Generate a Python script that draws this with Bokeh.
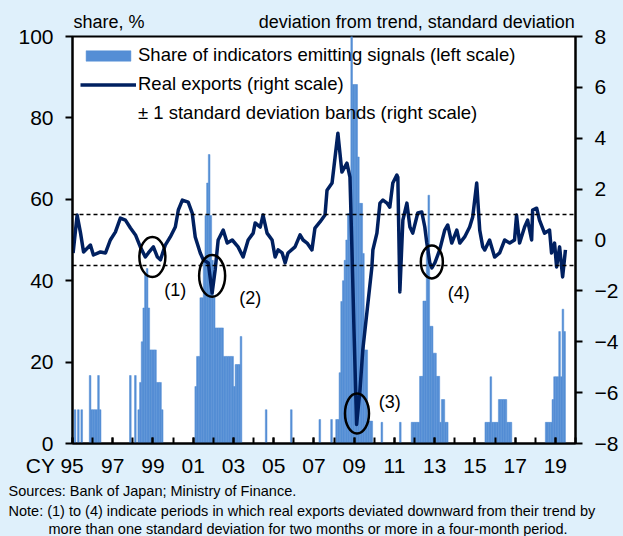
from bokeh.plotting import figure
from bokeh.models import (Range1d, LinearAxis, FixedTicker, Span, Legend,
                          LegendItem, Title)
from bokeh.embed import file_html
from bokeh.resources import INLINE
from bokeh.core.properties import value

FONT = "Liberation Sans"
BG = "#DFF0FB"
BAR = "#558ED5"
NAVY = "#002060"

# ---------------- data ----------------
bar_month = ["1995-02","1995-04","1995-06","1995-11","1995-12","1996-01","1996-02","1996-03","1996-04","1996-05",
             "1997-11","1998-02","1998-04","1998-05","1998-06","1998-07","1998-08","1998-09","1998-10","1998-11","1998-12",
             "1999-01","1999-02","1999-03","1999-04","1999-05","1999-06",
             "2001-02","2001-03","2001-04","2001-05","2001-06","2001-07","2001-08","2001-09","2001-10","2001-11","2001-12",
             "2002-01","2002-02","2002-03","2002-04","2002-05","2002-06","2002-07","2002-08","2002-09","2002-10","2002-11","2002-12",
             "2003-01","2003-02","2003-03","2003-04","2003-05",
             "2004-08","2005-11","2007-04","2007-11",
             "2008-02","2008-03","2008-04","2008-05","2008-06","2008-07","2008-08","2008-09","2008-10","2008-11","2008-12",
             "2009-01","2009-02","2009-03","2009-04","2009-05","2009-06","2009-07","2009-08","2009-09","2009-10","2009-11",
             "2010-05","2011-04",
             "2011-11","2011-12","2012-01","2012-02","2012-03","2012-04","2012-05","2012-06","2012-07","2012-08","2012-09","2012-10","2012-11","2012-12",
             "2013-01","2013-02","2013-03","2013-04","2013-05","2013-06","2013-07","2013-08",
             "2015-07","2015-08","2015-09","2015-10","2015-11","2015-12","2016-01","2016-02","2016-03","2016-04","2016-05","2016-06","2016-07","2016-08","2016-09","2016-10",
             "2018-07","2018-08","2018-09","2018-10","2018-11","2018-12","2019-01","2019-02","2019-03","2019-04","2019-05","2019-06"]
bar_share = [8.3,8.3,8.3,16.7,8.3,8.3,8.3,8.3,16.7,8.3,
             16.7,16.7,8.3,15,25,33.3,41.5,43,33.3,23,23,
             23,23,15,15,15,8.3,
             14,21.4,21.4,35.8,35.8,45,56,64,71,56,45,
             35.8,28.4,28.4,28.4,28.4,28.4,21.4,21.4,21.4,21.4,21.4,21.4,
             14,19.4,19.4,19.4,26.3,
             8.3,8.3,5.9,5.9,
             5.9,5.9,17.4,34.9,40,45,50,56.5,56.5,100,88.2,
             88.2,88.2,70.4,59,59,46.7,23,23,5.5,5.5,5.5,
             5.2,5.2,
             5.2,5.2,5.2,5.2,5.2,16.5,16.5,35,35,47,61,28.8,28.8,22.2,
             22.2,16.5,16.5,5.2,10.8,10.8,5.2,5.2,
             5.2,5.2,5.2,16.4,5.2,5.2,5.2,5.2,10.8,10.8,10.8,10.8,10.8,5.2,5.2,5.2,
             5.2,5.2,5.2,5.2,10.8,16.4,16.4,16.4,27.5,16.4,33,27.5]

line_dates = [1995.03,1995.23,1995.40,1995.55,1995.89,1996.04,1996.39,1996.64,1996.88,1997.13,
              1997.38,1997.63,1997.88,1998.13,1998.37,1998.62,1998.77,1999.02,1999.22,1999.37,
              1999.61,1999.86,2000.11,2000.26,2000.46,2000.75,2000.95,2001.10,2001.35,2001.50,
              2001.75,2001.94,2002.09,2002.24,2002.49,2002.69,2002.94,2003.23,2003.48,2003.73,
              2003.98,2004.08,2004.33,2004.47,2004.67,2004.92,2005.07,2005.22,2005.42,2005.57,
              2005.71,2006.06,2006.31,2006.46,2006.66,2006.90,2007.05,2007.30,2007.55,2007.65,
              2007.90,2008.05,2008.19,2008.39,2008.64,2008.79,2008.89,2008.99,2009.12,2009.29,
              2009.43,2009.88,2009.93,2010.13,2010.28,2010.43,2010.63,2010.77,2010.92,2011.12,
              2011.17,2011.27,2011.42,2011.62,2011.77,2011.91,2012.16,2012.36,2012.51,2012.61,
              2012.76,2012.86,2013.01,2013.25,2013.50,2013.65,2013.85,2014.10,2014.25,2014.49,
              2014.74,2014.89,2015.09,2015.24,2015.39,2015.49,2015.73,2015.98,2016.23,2016.48,
              2016.73,2016.97,2017.07,2017.22,2017.47,2017.62,2017.82,2017.87,2018.07,2018.21,
              2018.46,2018.71,2018.81,2018.96,2019.06,2019.21,2019.36,2019.50]
line_values = [-0.51,0.98,0.27,-0.47,-0.20,-0.59,-0.47,-0.51,0.0,0.31,
               0.86,0.78,0.47,0.20,-0.27,-0.67,-0.51,-0.27,-0.67,-0.78,
               -0.20,0.12,0.51,1.18,1.57,1.49,1.06,0.12,-0.51,-0.78,
               -0.90,-2.08,-1.18,0.0,0.39,-0.12,0.0,-0.27,-0.67,0.0,
               0.27,0.67,0.51,0.98,0.27,0.0,-0.67,-0.39,-0.51,-0.90,
               -0.51,-0.27,0.20,0.0,-0.12,-0.39,0.47,0.71,0.98,1.96,
               2.24,3.25,4.20,2.67,3.02,2.47,-0.39,-3.53,-7.25,-5.88,
               -4.31,-1.06,-0.39,0.27,1.45,1.57,1.45,1.29,2.24,2.55,
               2.47,-2.04,0.78,1.45,0.51,0.27,1.06,1.10,0.51,-0.12,
               -0.90,-1.10,-0.90,-0.39,0.39,0.59,-0.12,0.39,-0.12,0.12,
               0.51,0.90,2.24,0.39,-0.27,-0.39,0.0,-0.67,-0.51,0.0,
               -0.12,0.0,0.98,-0.12,0.51,0.78,0.0,1.18,1.25,0.78,
               0.27,0.39,-0.51,-0.12,-1.06,-0.27,-1.45,-0.39]

band_levels = [1, -1]
left_ticks = [0, 20, 40, 60, 80, 100]
right_ticks = [-8, -6, -4, -2, 0, 2, 4, 6, 8]
year_label_ticks = list(range(1995, 2020, 2))
year_ticks = list(range(1995, 2021))
year_labels = ["CY 95" + "\u00a0" * 6] + [f"{y % 100:02d}" for y in year_label_ticks[1:]]

header_texts = ["share, %", "deviation from trend, standard deviation"]
header_pos = [1996.81, 2012.11]

note_texts = ["Sources: Bank of Japan; Ministry of Finance.",
              "Note: (1) to (4) indicate periods in which real exports deviated downward from their trend by",
              "more than one standard deviation for two months or more in a four-month period."]
note_offsets = [-64, -64, -24]
note_standoffs = [3, 0, 0]

episode_names = ["(1)", "(2)", "(3)", "(4)"]
episode_x = [1998.97, 2001.94, 2009.14, 2012.86]
episode_y = [-0.67, -1.41, -6.82, -0.86]
episode_w = [26, 26, 24, 22]
episode_h = [40, 42, 40, 33]
episode_label_x = [2000.11, 2003.83, 2010.77, 2014.20]
episode_label_y = [-1.96, -2.27, -6.35, -2.08]

# ---------------- figure ----------------
p = figure(width=621, height=536, x_range=Range1d(1995, 2020), y_range=Range1d(0, 100),
           output_backend="svg", toolbar_location=None,
           min_border_left=72, min_border_right=45, min_border_top=36, min_border_bottom=92,
           background_fill_color="white", border_fill_color=BG,
           outline_line_color="black", outline_line_width=2)
p.xgrid.visible = False
p.ygrid.visible = False

def style_labels(ax, size):
    ax.major_label_text_font = FONT
    ax.major_label_text_font_size = size
    ax.major_label_text_color = "black"

# left axis
ya = p.yaxis[0]
ya.ticker = FixedTicker(ticks=left_ticks)
ya.major_tick_out = 7
ya.major_tick_in = 0
ya.minor_tick_line_color = None
ya.major_tick_line_width = 2
ya.axis_line_width = 2
ya.major_label_standoff = 12
style_labels(ya, "21px")

# right axis
p.extra_y_ranges = {"right": Range1d(-8, 8)}
ra = LinearAxis(y_range_name="right", ticker=FixedTicker(ticks=right_ticks))
ra.major_tick_out = 7
ra.major_tick_in = 0
ra.minor_tick_line_color = None
ra.major_tick_line_width = 2
ra.axis_line_width = 2
ra.major_label_standoff = 12
style_labels(ra, "21px")
p.add_layout(ra, "right")

# bottom axis
xa = p.xaxis[0]
xa.ticker = FixedTicker(ticks=year_label_ticks, minor_ticks=year_ticks)
xa.major_label_overrides = dict(zip(year_label_ticks, year_labels))
xa.major_tick_in = 6
xa.major_tick_out = 0
xa.minor_tick_in = 6
xa.minor_tick_out = 0
xa.major_tick_line_width = 2
xa.minor_tick_line_width = 2
xa.minor_tick_line_color = "black"
xa.axis_line_width = 2
xa.major_label_standoff = 10
style_labels(xa, "21px")

# top "axis" carrying the two scale headers
ta = LinearAxis(ticker=FixedTicker(ticks=header_pos))
ta.major_label_overrides = dict(zip(header_pos, header_texts))
ta.axis_line_color = None
ta.major_tick_line_color = None
ta.minor_tick_line_color = None
ta.major_tick_out = 0
ta.major_tick_in = 0
ta.major_label_standoff = 5
style_labels(ta, "18px")
p.add_layout(ta, "above")

# bars
bar_x = [int(m[:4]) + (int(m[5:]) - 1) / 12 + 1 / 24 for m in bar_month]
bars = p.vbar(x=bar_x, top=bar_share, bottom=0, width=1 / 12,
              fill_color=BAR, line_color=BAR, line_width=0.5)

# bands
for lvl in band_levels:
    p.add_layout(Span(location=lvl, dimension="width", y_range_name="right",
                      line_color="black", line_dash="4 3", line_width=1.5))
band_dummy = p.line(x=[], y=[], line_color="black", line_dash="4 3", line_width=1.5)

# real exports
exp_line = p.line(line_dates, line_values, y_range_name="right",
                  line_color=NAVY, line_width=3.5, line_join="round")

# episode ellipses & labels
p.ellipse(x=episode_x, y=episode_y, width=episode_w, height=episode_h,
          width_units="screen", height_units="screen", y_range_name="right",
          fill_color=None, line_color="black", line_width=2.5)
p.text(x=episode_label_x, y=episode_label_y, text=episode_names, y_range_name="right",
       text_font=value(FONT), text_font_size="18px", text_align="center",
       text_baseline="middle", text_color="black")

# legend
legend = Legend(items=[
    LegendItem(label="Share of indicators emitting signals (left scale)", renderers=[bars]),
    LegendItem(label="Real exports (right scale)", renderers=[exp_line]),
    LegendItem(label="± 1 standard deviation bands (right scale)", renderers=[band_dummy]),
], location="top_left")
legend.background_fill_alpha = 0
legend.border_line_color = None
legend.margin = 8
legend.padding = 0
legend.glyph_width = 56
legend.glyph_height = 13
legend.label_height = 20
legend.spacing = 7
legend.label_standoff = 2
legend.label_text_font = FONT
legend.label_text_font_size = "18.5px"
legend.label_text_color = "black"
p.add_layout(legend)

# notes below the chart
for txt, off, so in zip(note_texts, note_offsets, note_standoffs):
    p.add_layout(Title(text=txt, align="left", offset=off, standoff=so,
                       text_font=FONT, text_font_size="14.5px",
                       text_font_style="normal", text_color="black"), "below")

html = file_html(p, INLINE)
html = html.replace("</head>", "<style>html,body{background:%s;}</style></head>" % BG, 1)
open("out.html", "w").write(html)
